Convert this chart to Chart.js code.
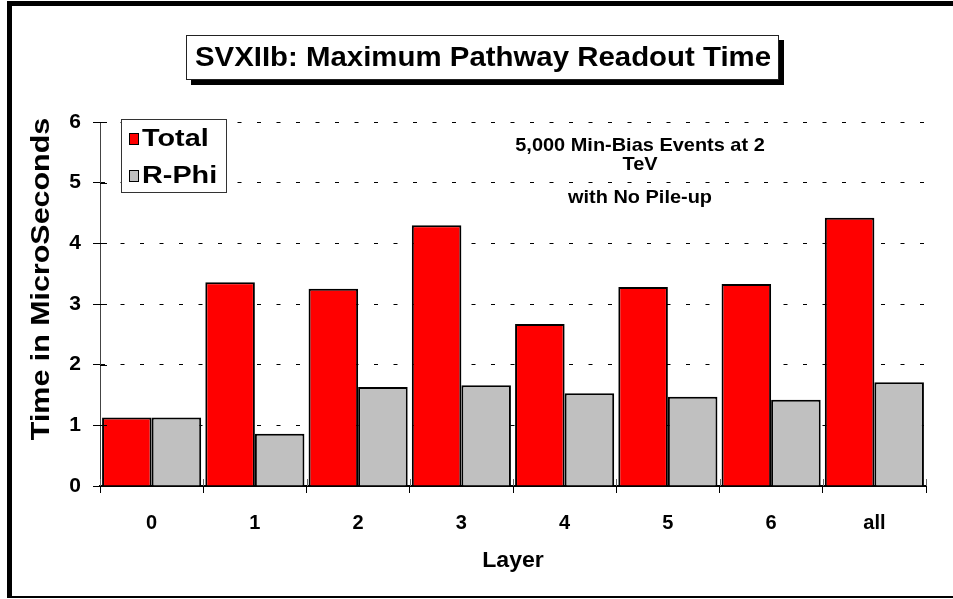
<!DOCTYPE html>
<html>
<head>
<meta charset="utf-8">
<script src="https://cdn.jsdelivr.net/npm/chart.js@4/dist/chart.umd.min.js"></script>
<style>
  html, body { margin: 0; padding: 0; background: #fff; }
  canvas { display: block; }
</style>
</head>
<body>
<canvas id="readoutChart" width="953" height="599"></canvas>
<script>
// data
const layers = ['0', '1', '2', '3', '4', '5', '6', 'all']
const totalTimes = [1.13, 3.36, 3.25, 4.30, 2.67, 3.28, 3.33, 4.42]
const rPhiTimes = [1.13, 0.86, 1.63, 1.66, 1.53, 1.47, 1.42, 1.71]
const seriesNames = ['Total', 'R-Phi']
const seriesColors = ['#ff0000', '#c0c0c0']
const chartTitle = 'SVXIIb: Maximum Pathway Readout Time'
const noteLines = ['5,000 Min-Bias Events at 2', 'TeV', 'with No Pile-up']
const yTitle = 'Time in MicroSeconds'
const xTitle = 'Layer'

const FONT = '"Liberation Sans", Arial, Helvetica, sans-serif'

// draws bold text, squeezed or widened along its run
function stretchText(ctx, text, x, y, size, sx, align, angle) {
  ctx.save()
  ctx.font = `bold ${size}px ${FONT}`
  ctx.textAlign = align || 'center'
  ctx.textBaseline = 'middle'
  ctx.fillStyle = '#000'
  ctx.translate(x, y)
  if (angle) ctx.rotate(angle)
  ctx.scale(sx, 1)
  ctx.fillText(text, 0, 0)
  ctx.restore()
}

// page frame, title box, axis titles, note
const decorPlugin = {
  id: 'decor',
  beforeDraw(chart) {
    const ctx = chart.ctx
    ctx.save()
    ctx.fillStyle = '#fff'
    ctx.fillRect(0, 0, chart.width, chart.height)
    ctx.fillStyle = '#000'
    ctx.fillRect(7, 1, chart.width - 7, 5)   // top edge
    ctx.fillRect(7, 1, 5, 597)               // left edge
    ctx.fillRect(7, 596, chart.width - 7, 2) // bottom edge
    ctx.restore()
  },
  afterDraw(chart) {
    const ctx = chart.ctx
    const area = chart.chartArea

    // title box with its drop shadow
    ctx.save()
    ctx.fillStyle = '#000'
    ctx.fillRect(191, 40, 593, 45)
    ctx.fillStyle = '#fff'
    ctx.fillRect(186, 35, 593, 45)
    ctx.strokeStyle = '#222'
    ctx.lineWidth = 1
    ctx.strokeRect(186.5, 35.5, 592, 44)
    ctx.restore()
    stretchText(ctx, chartTitle, 483, 58, 28, 1.05)

    // note inside the plot
    const noteY = [146, 165, 198]
    noteLines.forEach((line, i) => stretchText(ctx, line, 640, noteY[i], 19, 1.05))

    // axis titles
    stretchText(ctx, yTitle, 42, 279, 26, 1.17, 'center', -Math.PI / 2)
    stretchText(ctx, xTitle, (area.left + area.right) / 2, 561, 22, 1.05)
  }
}

// legend box in the upper left of the plot
const legendBoxPlugin = {
  id: 'legendBox',
  afterDraw(chart) {
    const ctx = chart.ctx
    ctx.save()
    ctx.fillStyle = '#fff'
    ctx.fillRect(121, 119, 106, 74)
    ctx.strokeStyle = '#333'
    ctx.lineWidth = 1
    ctx.strokeRect(121.5, 119.5, 105, 73)
    chart.data.datasets.forEach((ds, i) => {
      const y = 139 + i * 37
      ctx.fillStyle = ds.backgroundColor
      ctx.fillRect(129, y - 6, 10, 12)
      ctx.strokeStyle = '#000'
      ctx.strokeRect(129.5, y - 5.5, 9, 11)
      stretchText(ctx, ds.label, 142, y, 24, 1.2, 'left')
    })
    ctx.restore()
  }
}

// tick marks that cross the axes, drawn on top of the bars
const crossTicksPlugin = {
  id: 'crossTicks',
  afterDatasetsDraw(chart) {
    const ctx = chart.ctx
    const { x, y } = chart.scales
    const area = chart.chartArea
    ctx.save()
    ctx.strokeStyle = '#000'
    ctx.lineWidth = 1
    ctx.beginPath()
    y.ticks.forEach((t, i) => {
      const py = Math.round(y.getPixelForTick(i)) + 0.5
      ctx.moveTo(area.left, py)
      ctx.lineTo(area.left + 7, py)
    })
    ctx.stroke()
    ctx.strokeStyle = '#666'
    ctx.beginPath()
    for (let i = 0; i <= layers.length; i++) {
      const px = Math.round(x.getPixelForValue(i - 0.5)) + 0.5
      ctx.moveTo(px, area.bottom - 7)
      ctx.lineTo(px, area.bottom)
    }
    ctx.stroke()
    ctx.restore()
  }
}

const ctx = document.getElementById('readoutChart').getContext('2d')

new Chart(ctx, {
  type: 'bar',
  data: {
    labels: layers,
    datasets: [{
      label: seriesNames[0],
      data: totalTimes,
      backgroundColor: seriesColors[0],
      borderColor: '#000',
      borderWidth: 2
    }, {
      label: seriesNames[1],
      data: rPhiTimes,
      backgroundColor: seriesColors[1],
      borderColor: '#000',
      borderWidth: 2
    }]
  },
  options: {
    responsive: false,
    devicePixelRatio: 1,
    animation: false,
    layout: {
      padding: { top: 122, right: 27, bottom: 0, left: 0 }
    },
    datasets: {
      bar: {
        categoryPercentage: 0.96,
        barPercentage: 1
      }
    },
    scales: {
      x: {
        grid: {
          offset: true,
          drawOnChartArea: false,
          drawTicks: true,
          tickLength: 7,
          color: '#000',
          lineWidth: 1
        },
        border: { display: true, color: '#000', width: 2 },
        ticks: {
          color: '#000',
          padding: 18,
          font: { family: FONT, size: 20, weight: 'bold' }
        },
        afterFit: scale => { scale.height = 113 }
      },
      y: {
        min: 0,
        max: 6,
        grid: {
          color: '#000',
          lineWidth: 1,
          drawTicks: true,
          tickLength: 7,
          tickBorderDash: []
        },
        border: { display: true, color: '#444', width: 1, dash: [4, 15.5] },
        ticks: {
          stepSize: 1,
          color: '#000',
          padding: 12,
          font: { family: FONT, size: 21, weight: 'bold' }
        },
        afterFit: scale => { scale.width = 100 }
      }
    },
    plugins: {
      legend: { display: false },
      title: { display: false },
      tooltip: { enabled: false }
    }
  },
  plugins: [decorPlugin, legendBoxPlugin, crossTicksPlugin]
})
</script>
</body>
</html>
